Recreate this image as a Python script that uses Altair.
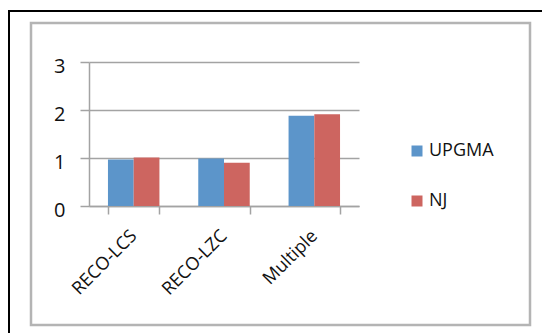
import altair as alt
import pandas as pd

# Reconstruction results per method and clustering algorithm
methods = ["RECO-LCS", "RECO-LZC", "Multiple"]
upgma = [0.97, 0.99, 1.88]
nj = [1.01, 0.90, 1.91]
series_names = ["UPGMA", "NJ"]
series_colors = ["#5C95CA", "#CD6560"]
y_ticks = [0, 1, 2, 3]

rows = []
for m, u, n in zip(methods, upgma, nj):
    rows.append({"method": m, "series": "UPGMA", "value": u})
    rows.append({"method": m, "series": "NJ", "value": n})
df = pd.DataFrame(rows)

FONT = "Open Sans"
AXIS_GRAY = "#A3A3A3"

bars = alt.Chart(df).mark_bar().encode(
    x=alt.X(
        "method:N",
        sort=methods,
        title=None,
        scale=alt.Scale(paddingInner=0.43, paddingOuter=0.21),
        axis=alt.Axis(
            labelAngle=-45,
            labelAlign="right",
            labelBaseline="middle",
            labelFont=FONT,
            labelFontSize=18,
            labelColor="#111111",
            labelPadding=19,
            tickBand="extent",
            tickSize=8,
            tickColor=AXIS_GRAY,
            tickWidth=1.5,
            domainColor=AXIS_GRAY,
            domainWidth=1.5,
            grid=False,
        ),
    ),
    xOffset=alt.XOffset("series:N", sort=series_names),
    y=alt.Y(
        "value:Q",
        title=None,
        scale=alt.Scale(domain=[0, 3], nice=False),
        axis=alt.Axis(
            values=y_ticks,
            format="d",
            labelFont=FONT,
            labelFontSize=20,
            labelColor="#111111",
            labelPadding=15,
            labelOffset=4,
            tickSize=9,
            tickColor=AXIS_GRAY,
            tickWidth=1.5,
            domainColor=AXIS_GRAY,
            domainWidth=1.5,
            gridColor=AXIS_GRAY,
            gridWidth=1.5,
        ),
    ),
    color=alt.Color(
        "series:N",
        sort=series_names,
        scale=alt.Scale(domain=series_names, range=series_colors),
        legend=alt.Legend(
            title=None,
            orient="none",
            legendX=319,
            legendY=80,
            padding=0,
            symbolType="square",
            symbolSize=121,
            symbolStrokeWidth=0,
            symbolOpacity=1,
            labelFont=FONT,
            labelFontSize=18,
            labelColor="#111111",
            labelOffset=3,
            rowPadding=32,
        ),
    ),
)

# Chart-area frame (grey) and outer page frame (black), outlines only
frame = alt.Chart(pd.DataFrame({"k": [0]})).mark_rect(
    filled=False, stroke="#B4B4B4", strokeWidth=2.5
).encode(x=alt.value(-58), x2=alt.value(441), y=alt.value(-39), y2=alt.value(263))

outer = alt.Chart(pd.DataFrame({"k": [0]})).mark_rect(
    filled=False, stroke="#000000", strokeWidth=2
).encode(x=alt.value(-80), x2=alt.value(470), y=alt.value(-51), y2=alt.value(290))

chart = (
    alt.layer(outer, frame, bars)
    .properties(
        width=270,
        height=144,
        autosize=alt.AutoSizeParams(type="none"),
        padding={"left": 89, "top": 62, "right": 183, "bottom": 127},
        background="white",
    )
    .configure_view(stroke=None)
)

chart.save("out.html", embed_options={"renderer": "svg", "actions": False})
